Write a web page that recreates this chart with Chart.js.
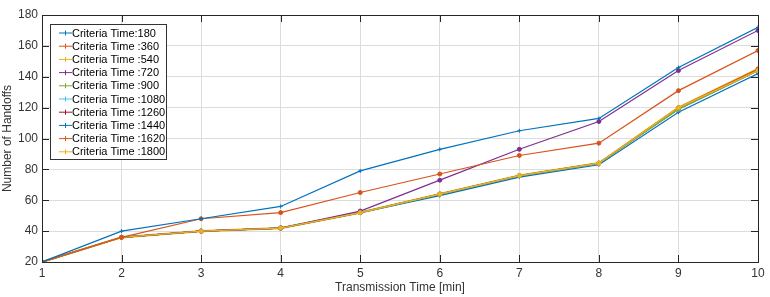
<!DOCTYPE html>
<html>
<head>
<meta charset="utf-8">
<script src="https://cdn.jsdelivr.net/npm/chart.js@4/dist/chart.umd.min.js"></script>
<style>
  html, body { margin: 0; padding: 0; background: #fff; }
  #wrap { width: 770px; height: 297px; }
</style>
</head>
<body>
<div id="wrap"><canvas id="handoffs"></canvas></div>
<script>
// ===== DATA =====
const TIMES = [1, 2, 3, 4, 5, 6, 7, 8, 9, 10];
const Y_TICKS = [20, 40, 60, 80, 100, 120, 140, 160, 180];
const LABELS = ['Criteria Time:180', 'Criteria Time :360', 'Criteria Time :540', 'Criteria Time :720',
  'Criteria Time :900', 'Criteria Time :1080', 'Criteria Time :1260', 'Criteria Time :1440',
  'Criteria Time :1620', 'Criteria Time :1800'];

const ct180  = [20, 40, 48, 56, 79, 93, 105, 113, 146, 172];
const ct360  = [20, 36, 48, 52, 65, 77, 89, 97, 131, 157];
const ct540  = [20, 36, 40, 42, 52, 64, 76, 84, 120, 144];
const ct720  = [20, 36, 40, 42, 53, 73, 93, 111, 144, 170];
const ct900  = [20, 36, 40, 42, 52, 64, 76, 84, 119, 144];
const ct1080 = [20, 36, 40, 42, 52, 64, 76, 84, 119, 144];
const ct1260 = [20, 36, 40, 42, 52, 64, 76, 84, 119, 144];
const ct1440 = [20, 36, 40, 42, 52, 63, 75, 83, 117, 142];
const ct1620 = [20, 36, 40, 42, 52, 64, 76, 84, 120, 145];
const ct1800 = [20, 36, 40, 42, 52, 64, 76, 84, 120, 145];

const SERIES = [ct180, ct360, ct540, ct720, ct900, ct1080, ct1260, ct1440, ct1620, ct1800];
const COLORS = ['#0072BD', '#D95319', '#EDB120', '#7E2F8E', '#77AC30',
  '#4DBEEE', '#A2142F', '#0072BD', '#D95319', '#EDB120'];
const STYLES = ['cross', 'circle', 'circle', 'circle', 'circle', 'circle', 'circle', 'cross', 'circle', 'circle'];

const AXIS_FONT = { family: "'Liberation Sans Narrow', 'Liberation Sans', Arial, sans-serif", size: 12 };

// legend box drawn inside plot (matlab style)
const boxLegend = {
  id: 'boxLegend',
  afterDraw(chart) {
    const { ctx, chartArea } = chart;
    const x0 = chartArea.left + 8, y0 = chartArea.top + 9;
    const w = 116, rowH = 13.2, h = 135;
    ctx.save();
    ctx.fillStyle = '#fff';
    ctx.fillRect(x0, y0, w, h);
    ctx.strokeStyle = '#333';
    ctx.lineWidth = 1;
    ctx.strokeRect(x0 + 0.5, y0 + 0.5, w, h);
    ctx.font = "11px 'Liberation Sans', Arial, sans-serif";
    ctx.textBaseline = 'middle';
    chart.data.datasets.forEach((ds, i) => {
      const y = y0 + 9 + i * rowH;
      ctx.strokeStyle = ds.borderColor;
      ctx.beginPath();
      ctx.moveTo(x0 + 9, y);
      ctx.lineTo(x0 + 22, y);
      ctx.stroke();
      ctx.beginPath();
      ctx.moveTo(x0 + 15.5, y - 2.5);
      ctx.lineTo(x0 + 15.5, y + 2.5);
      ctx.stroke();
      ctx.fillStyle = '#000';
      ctx.fillText(ds.label, x0 + 22, y + 0.5);
    });
    ctx.restore();
  }
};

// box around plot area with inward ticks
const plotBox = {
  id: 'plotBox',
  afterDatasetsDraw(chart) {
    const { ctx, chartArea: a, scales } = chart;
    ctx.save();
    ctx.strokeStyle = '#262626';
    ctx.lineWidth = 1;
    ctx.strokeRect(a.left + 0.5, a.top + 0.5, a.right - a.left, a.bottom - a.top);
    ctx.beginPath();
    scales.x.ticks.forEach((t, i) => {
      const px = Math.round(scales.x.getPixelForTick(i)) + 0.5;
      ctx.moveTo(px, a.bottom); ctx.lineTo(px, a.bottom - 7);
      ctx.moveTo(px, a.top); ctx.lineTo(px, a.top + 7);
    });
    scales.y.ticks.forEach((t, i) => {
      const py = Math.round(scales.y.getPixelForTick(i)) + 0.5;
      ctx.moveTo(a.left, py); ctx.lineTo(a.left + 7, py);
      ctx.moveTo(a.right, py); ctx.lineTo(a.right - 7, py);
    });
    ctx.stroke();
    ctx.restore();
  }
};

new Chart(document.getElementById('handoffs'), {
  type: 'line',
  data: {
    datasets: SERIES.map((s, i) => ({
      label: LABELS[i],
      data: TIMES.map((t, k) => ({ x: t, y: s[k] })),
      borderColor: COLORS[i],
      backgroundColor: COLORS[i],
      borderWidth: i === 9 ? 2.2 : 1.2,
      pointStyle: STYLES[i],
      pointRadius: 2,
      pointBorderWidth: 1,
      tension: 0
    }))
  },
  options: {
    responsive: true,
    maintainAspectRatio: false,
    animation: false,
    layout: { padding: { top: 15, right: 12, left: 0, bottom: 0 } },
    plugins: { legend: { display: false }, tooltip: { enabled: false } },
    scales: {
      x: {
        type: 'linear', min: 1, max: 10,
        afterBuildTicks: s => { s.ticks = TIMES.map(v => ({ value: v })); },
        afterFit: s => { s.height = 35; },
        grid: { color: '#dcdcdc', drawTicks: false },
        border: { display: false },
        ticks: { color: '#333', font: AXIS_FONT, padding: 4, maxRotation: 0 },
        title: { display: true, text: 'Transmission Time [min]', color: '#333', font: AXIS_FONT, padding: { top: 0, bottom: 2 } }
      },
      y: {
        min: 20, max: 180,
        afterBuildTicks: s => { s.ticks = Y_TICKS.map(v => ({ value: v })); },
        afterFit: s => { s.width = 42; },
        grid: { color: '#dcdcdc', drawTicks: false },
        border: { display: false },
        ticks: { color: '#333', font: AXIS_FONT, padding: 4 },
        title: { display: true, text: 'Number of Handoffs', color: '#333', font: AXIS_FONT, padding: { top: 0, bottom: 2 } }
      }
    }
  },
  plugins: [plotBox, boxLegend]
});
</script>
</body>
</html>
